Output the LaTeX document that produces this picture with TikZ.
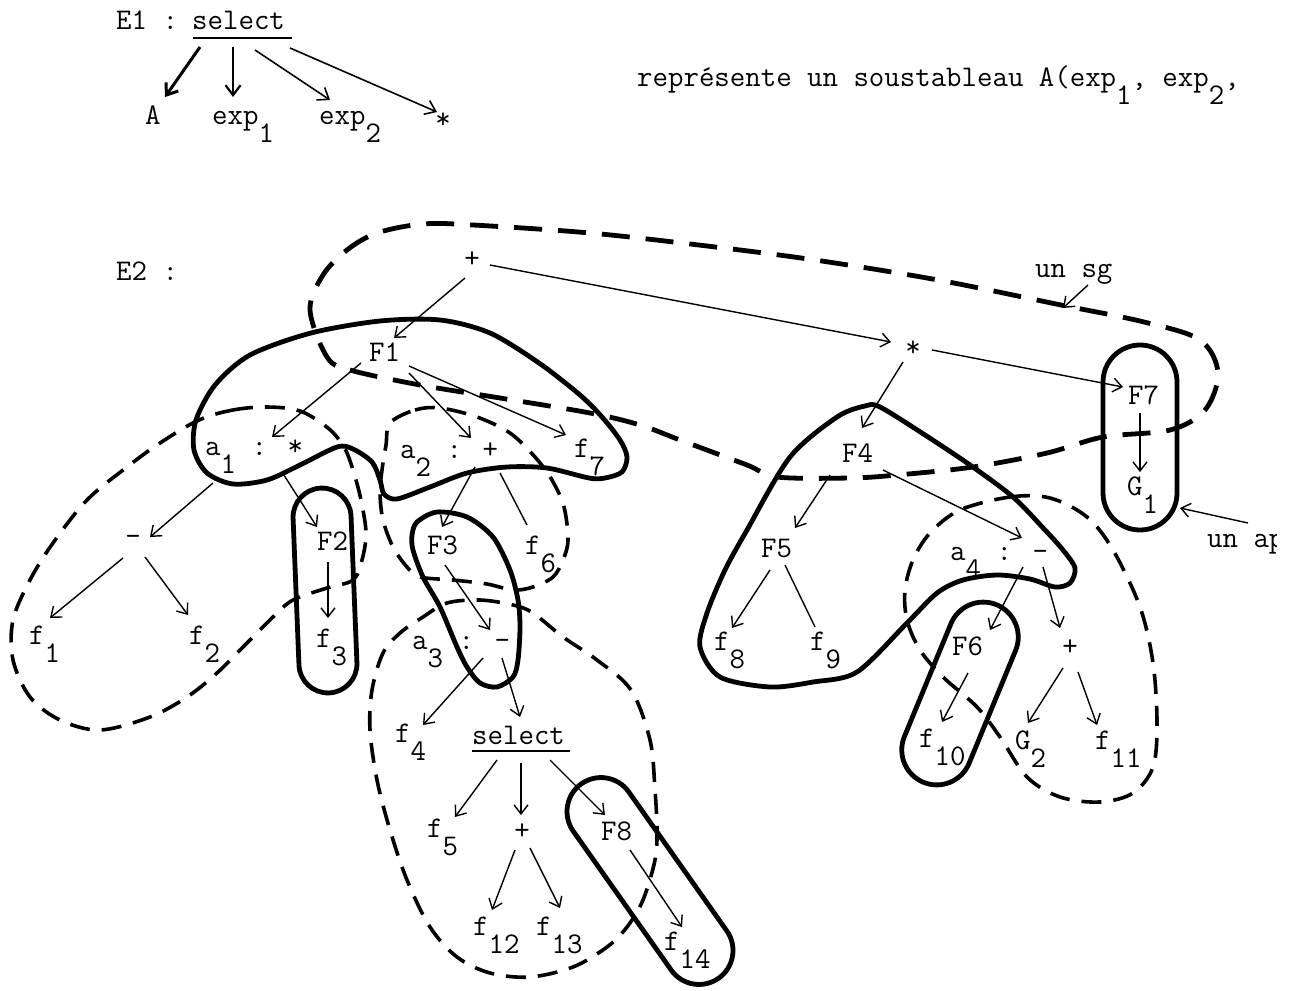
\documentclass[tikz,border=0pt]{standalone}
\usepackage{fontspec}
\usetikzlibrary{arrows.meta}
\newcommand\lowr[1]{\raisebox{-0.6em}{#1}}
\tikzset{
 lbl/.style={font=\ttfamily\fontsize{30}{34}\selectfont, inner sep=0pt, anchor=mid west,
   execute at begin node={\lower5.5pt\hbox\bgroup}, execute at end node={\egroup}},
 sym/.style={font=\ttfamily\fontsize{30}{34}\selectfont, inner sep=0pt, anchor=center},
 arr/.style={line width=1.4pt, -{Straight Barb[length=9pt,width=14pt]}},
 arrE/.style={line width=2.2pt, -{Straight Barb[length=10pt,width=15pt]}},
 thinline/.style={line width=1.4pt},
 blob/.style={line width=4.8pt, line join=round},
 dloop/.style={line width=3.6pt, dash pattern=on 20pt off 12pt},
 bigloop/.style={line width=4.8pt, dash pattern=on 28pt off 16pt},
 uline/.style={line width=2pt}
}
\begin{document}
\begin{tikzpicture}[x=1pt,y=-1pt]
\useasboundingbox (0,0) rectangle (1295,990);

% ---------- E1 ----------
\node[lbl] (e1lab) at (116,22) {E1 :};
\node[lbl] (sel1) at (192,22) {select};
\draw[uline] ([shift={(1,16)}]sel1.mid west) -- ([shift={(100,16)}]sel1.mid west);
\node[lbl] (A) at (145,117) {A};
\node[lbl] (exp1) at (212,117) {exp\lowr{1}};
\node[lbl] (exp2) at (319,117) {exp\lowr{2}};
\node[sym] (star1) at (443,121) {*};
\draw[arrE, line width=3pt] ([shift={(8,25)}]sel1.mid west) -- ([shift={(20,-20)}]A.mid west);
\draw[arrE] ([shift={(41,25)}]sel1.mid west) -- ([shift={(21,-20)}]exp1.mid west);
\draw[arrE, line width=1.6pt] ([shift={(63,28)}]sel1.mid west) -- ([shift={(11,-17)}]exp2.mid west);
\draw[arrE, line width=1.6pt] ([shift={(98,26)}]sel1.mid west) -- ([shift={(-6,-9)}]star1.center);

\node[lbl] (txt) at (637,79) {représente un soustableau A(exp\lowr{1}, exp\lowr{2},};

% ---------- E2 shapes ----------
\draw[bigloop] plot[smooth cycle, tension=0.55] coordinates {
 (327,357) (350,370) (420,385) (500,398) (590,413) (640,425) (680,440) (747,465)
 (777,477) (850,478) (897,475) (973,467) (1047,453) (1103,437) (1170,430) (1205,410)
 (1218,373) (1200,340) (1144,322) (1061,305) (938,280) (815,260) (707,246) (590,233)
 (473,225) (423,224) (377,233) (347,250) (323,275) (310,310)};

\draw[blob] plot[smooth cycle, tension=0.5] coordinates {
 (440,320) (490,333) (539,363) (580,395) (602,417) (620,440) (627,457) (622,472)
 (605,478) (589,478) (547,468) (507,467) (467,473) (430,487) (397,499) (384,494)
 (380,480) (372,462) (353,449) (337,447) (300,465) (267,480) (233,484) (207,473)
 (194,450) (196,420) (215,385) (250,355) (311,333) (380,321)};

\draw[dloop] plot[smooth cycle, tension=0.55] coordinates {
 (199,420) (233,410) (267,407) (300,411) (328,428) (344,447) (353,470) (361,500)
 (366,533) (362,560) (353,580) (327,588) (293,600) (273,617) (247,643) (217,673)
 (187,697) (150,717) (100,730) (60,720) (30,697) (13,660) (13,620) (30,580)
 (53,543) (87,500) (127,467) (160,443)};

\draw[dloop] plot[smooth cycle, tension=0.55] coordinates {
 (390,423) (415,410) (440,408) (477,417) (510,433) (535,457) (552,480) (564,507)
 (568,540) (563,560) (553,577) (533,587) (513,590) (487,584) (453,580) (420,577)
 (407,567) (393,547) (383,520) (380,493) (382,470) (386,445)};

\draw[dloop] plot[smooth cycle, tension=0.55] coordinates {
 (447,603) (480,600) (513,605) (533,613) (563,637) (597,660) (631,690) (650,740)
 (655,790) (657,830) (655,860) (643,900) (627,927) (607,947) (573,967) (530,977)
 (490,973) (457,957) (430,927) (407,880) (390,830) (377,780) (370,730) (372,690)
 (383,653) (400,633) (423,617)};

\draw[dloop] plot[smooth cycle, tension=0.55] coordinates {
 (960,510) (1010,497) (1050,498) (1087,517) (1113,550) (1140,607) (1153,663)
 (1157,723) (1153,767) (1133,793) (1100,802) (1060,797) (1027,777) (1000,737)
 (977,707) (943,677) (920,650) (907,620) (905,590) (913,560) (930,533)};

\draw[blob] plot[smooth cycle, tension=0.5] coordinates {
 (880,407) (925,435) (970,465) (1013,497) (1045,530) (1063,550) (1075,568)
 (1070,583) (1055,587) (1030,579) (997,575) (963,580) (937,593) (907,623)
 (857,672) (813,682) (770,687) (720,677) (700,647) (707,613) (725,570)
 (747,530) (790,457) (837,417) (865,406)};

\draw[blob] plot[smooth cycle, tension=0.5] coordinates {
 (437,512) (467,517) (493,537) (510,570) (518,600) (520,627) (518,660) (513,677)
 (497,687) (480,683) (467,667) (457,647) (440,607) (423,577) (413,550) (412,535) (417,522)};

\draw[blob, rounded corners=29pt, shift={(325,590.5)}, rotate=92.3] (-102.5,-29) rectangle (102.5,29);
\draw[blob, rounded corners=35pt, shift={(960,693.5)}, rotate=67.6] (-96,-35) rectangle (96,35);
\draw[blob, rounded corners=34pt, shift={(650,881)}, rotate=125.2] (-119,-34) rectangle (119,34);
\draw[blob, rounded corners=37pt] (1103,345) rectangle (1177,530);

% ---------- E2 labels ----------
\node[lbl] (e2lab) at (116,273) {E2 :};
\node[sym] (plusT) at (472,260) {+};
\node[sym] (star) at (913,349) {*};
\node[lbl] (F1) at (369,354) {F1};
\node[lbl] (F7) at (1128,397) {F7};
\node[lbl] (G1) at (1127,488) {G\lowr{1}};
\node[lbl] (a1) at (205,448) {a\lowr{1} : *};
\node[lbl] (a2) at (400,451) {a\lowr{2} : +};
\node[lbl] (f7) at (574,450) {f\lowr{7}};
\node[lbl] (F4) at (842,455) {F4};
\node[sym] (minus1) at (133,540) {-};
\node[lbl] (F2) at (317,543) {F2};
\node[lbl] (F3) at (427,547) {F3};
\node[lbl] (f6) at (525,547) {f\lowr{6}};
\node[lbl] (F5) at (761,550) {F5};
\node[lbl] (a4) at (950,553) {a\lowr{4} : -};
\node[lbl] (f1) at (29,637) {f\lowr{1}};
\node[lbl] (f2) at (189,637) {f\lowr{2}};
\node[lbl] (f3) at (316,640) {f\lowr{3}};
\node[lbl] (a3) at (412,642) {a\lowr{3} : -};
\node[lbl] (f8) at (714,643) {f\lowr{8}};
\node[lbl] (f9) at (810,643) {f\lowr{9}};
\node[lbl] (F6) at (952,648) {F6};
\node[sym] (plus4) at (1070,648) {+};
\node[lbl] (f4) at (395,735) {f\lowr{4}};
\node[lbl] (sel2) at (472,737) {select};
\draw[uline] ([shift={(0,14)}]sel2.mid west) -- ([shift={(98,14)}]sel2.mid west);
\node[lbl] (f10) at (919,740) {f\lowr{10}};
\node[lbl] (G2) at (1015,742) {G\lowr{2}};
\node[lbl] (f11) at (1095,742) {f\lowr{11}};
\node[lbl] (f5) at (427,830) {f\lowr{5}};
\node[sym] (plus5) at (522,832) {+};
\node[lbl] (F8) at (601,833) {F8};
\node[lbl] (f12) at (473,928) {f\lowr{12}};
\node[lbl] (f13) at (536,928) {f\lowr{13}};
\node[lbl] (f14) at (664,943) {f\lowr{14}};
\node[lbl] (unsg) at (1035,270) {un sg};
\begin{scope}
\clip (1195,515) rectangle (1276,575);
\node[lbl] (unap) at (1207,540) {un ap};
\end{scope}
\coordinate (sgtip) at (1063,308);
\coordinate (aptip) at (1180,508);

% ---------- E2 connectors ----------
\draw[arr] ([shift={(-7,18)}]plusT.center) -- ([shift={(25,-16)}]F1.mid west);
\draw[arr] ([shift={(18,5)}]plusT.center) -- ([shift={(-22,-7)}]star.center);
\draw[arr] ([shift={(-8,9)}]F1.mid west) -- ([shift={(67,-11)}]a1.mid west);
\draw[arr] ([shift={(40,19)}]F1.mid west) -- ([shift={(71,-13)}]a2.mid west);
\draw[arr] ([shift={(40,12)}]F1.mid west) -- ([shift={(-8,-15)}]f7.mid west);
\draw[arr] ([shift={(19,1)}]star.center) -- ([shift={(-5,-10)}]F7.mid west);
\draw[arr] ([shift={(-10,13)}]star.center) -- ([shift={(20,-27)}]F4.mid west);
\draw[arr] ([shift={(12,16)}]F7.mid west) -- ([shift={(13,-16)}]G1.mid west);
\draw[arr] ([shift={(8,35)}]a1.mid west) -- ([shift={(17,-3)}]minus1.center);
\draw[arr] ([shift={(77,24)}]a1.mid west) -- ([shift={(0,-16)}]F2.mid west);
\draw[arr] ([shift={(75,16)}]a2.mid west) -- ([shift={(15,-20)}]F3.mid west);
\draw[thinline] ([shift={(100,22)}]a2.mid west) -- ([shift={(2,-22)}]f6.mid west);
\draw[arr] ([shift={(-10,18)}]minus1.center) -- ([shift={(21,-19)}]f1.mid west);
\draw[arr] ([shift={(12,17)}]minus1.center) -- ([shift={(-1,-22)}]f2.mid west);
\draw[arr] ([shift={(11,19)}]F2.mid west) -- ([shift={(12,-22)}]f3.mid west);
\draw[arr] ([shift={(18,18)}]F3.mid west) -- ([shift={(78,-12)}]a3.mid west);
\draw[arr] ([shift={(-12,20)}]F4.mid west) -- ([shift={(34,-22)}]F5.mid west);
\draw[arr] ([shift={(41,15)}]F4.mid west) -- ([shift={(72,-15)}]a4.mid west);
\draw[arr] ([shift={(9,20)}]F5.mid west) -- ([shift={(18,-15)}]f8.mid west);
\draw[thinline] ([shift={(24,15)}]F5.mid west) -- ([shift={(5,-16)}]f9.mid west);
\draw[arr] ([shift={(73,14)}]a4.mid west) -- ([shift={(38,-18)}]F6.mid west);
\draw[arr] ([shift={(93,14)}]a4.mid west) -- ([shift={(-10,-20)}]plus4.center);
\draw[arr] ([shift={(71,16)}]a3.mid west) -- ([shift={(28,-10)}]f4.mid west);
\draw[arr] ([shift={(90,16)}]a3.mid west) -- ([shift={(48,-20)}]sel2.mid west);
\draw[arr] ([shift={(16,25)}]F6.mid west) -- ([shift={(23,-18)}]f10.mid west);
\draw[arr] ([shift={(-7,20)}]plus4.center) -- ([shift={(13,-19)}]G2.mid west);
\draw[arr] ([shift={(8,24)}]plus4.center) -- ([shift={(2,-17)}]f11.mid west);
\draw[arr] ([shift={(25,23)}]sel2.mid west) -- ([shift={(28,-13)}]f5.mid west);
\draw[arr] ([shift={(49,26)}]sel2.mid west) -- ([shift={(-1,-17)}]plus5.center);
\draw[arr] ([shift={(78,23)}]sel2.mid west) -- ([shift={(4,-18)}]F8.mid west);
\draw[arr] ([shift={(-7,18)}]plus5.center) -- ([shift={(19,-18)}]f12.mid west);
\draw[arr] ([shift={(8,16)}]plus5.center) -- ([shift={(24,-20)}]f13.mid west);
\draw[arr] ([shift={(29,17)}]F8.mid west) -- ([shift={(18,-16)}]f14.mid west);
\draw[arr] ([shift={(53,15)}]unsg.mid west) -- (sgtip);
\draw[arr] ([shift={(41,-17)}]unap.mid west) -- (aptip);
\end{tikzpicture}
\end{document}
